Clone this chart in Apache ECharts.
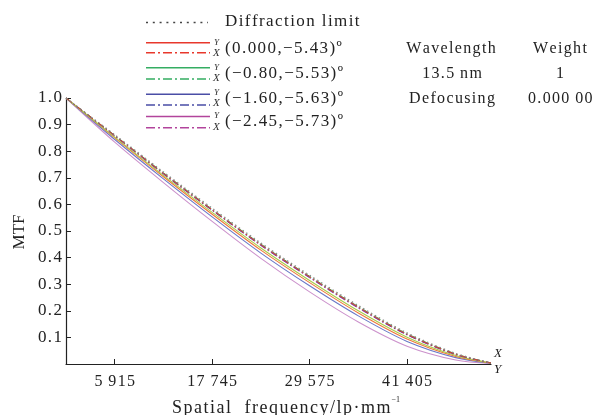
<!DOCTYPE html>
<html>
<head>
<meta charset="utf-8">
<script src="https://cdn.jsdelivr.net/npm/echarts@6/dist/echarts.min.js"></script>
<style>html,body{margin:0;padding:0;background:#fff}#c{width:592px;height:415px}</style>
</head>
<body>
<div id="c"></div>
<script>
// Spatial frequency samples (lp/mm)
var freq = [0, 5915, 11830, 17745, 23660, 29575, 35490, 41405, 47320, 51600];
// Tick labels on x axis
var xTicks = [5915, 17745, 29575, 41405];
var xTickLabels = ['5\u2009915', '17\u2009745', '29\u2009575', '41\u2009405'];
// MTF values
var diffLimit = [1.0, 0.862, 0.722, 0.586, 0.455, 0.334, 0.220, 0.117, 0.040, 0.004];
var redY     = [1.0, 0.850, 0.704, 0.563, 0.428, 0.306, 0.192, 0.094, 0.028, 0.003];
var redX     = [1.0, 0.859, 0.717, 0.580, 0.449, 0.328, 0.214, 0.112, 0.037, 0.004];
var greenY   = [1.0, 0.853, 0.709, 0.570, 0.436, 0.314, 0.200, 0.101, 0.032, 0.004];
var greenX   = [1.0, 0.860, 0.719, 0.582, 0.451, 0.330, 0.216, 0.114, 0.038, 0.004];
var blueY    = [1.0, 0.844, 0.696, 0.553, 0.417, 0.294, 0.181, 0.085, 0.024, 0.003];
var blueX    = [1.0, 0.858, 0.715, 0.578, 0.447, 0.326, 0.212, 0.110, 0.036, 0.004];
var purpleY  = [1.0, 0.834, 0.682, 0.536, 0.397, 0.271, 0.158, 0.067, 0.015, 0.002];
var purpleX  = [1.0, 0.857, 0.714, 0.577, 0.445, 0.324, 0.210, 0.109, 0.035, 0.004];

var fieldLabels = ['(0.000,\u22125.43)\u00ba', '(\u22120.80,\u22125.53)\u00ba', '(\u22121.60,\u22125.63)\u00ba', '(\u22122.45,\u22125.73)\u00ba'];
var colors = ['#e8382c', '#34ad62', '#4a4ea6', '#b2449c'];

function pairs(v) { return freq.map(function (f, i) { return [f, v[i]]; }); }
// widen tracking to mimic the spaced serif of the original
function sp(s) { return s.split('').join('\u200A'); }

var FONT = '"Liberation Serif", "Times New Roman", serif';
var DASHDOT = [7, 2.5, 1.5, 2.5];

function lineSeries(name, vals, color, dash, width, z) {
  return {
    name: name, type: 'line', data: pairs(vals), smooth: 0.3, showSymbol: false,
    symbol: 'none', z: z, silent: true,
    lineStyle: { color: color, width: width, type: dash }
  };
}

var series = [
  lineSeries('purpleY', purpleY, '#cc92cc', 'solid', 1.1, 2),
  lineSeries('blueY', blueY, '#6a78c8', 'solid', 1.1, 2),
  lineSeries('redY', redY, '#ef7a3a', 'solid', 1.1, 2),
  lineSeries('greenY', greenY, '#a8cc4a', 'solid', 1.1, 2),
  lineSeries('purpleX', purpleX, colors[3], DASHDOT, 1, 3),
  lineSeries('blueX', blueX, colors[2], DASHDOT, 1, 3),
  lineSeries('greenX', greenX, colors[1], DASHDOT, 1, 3),
  lineSeries('redX', redX, colors[0], DASHDOT, 1, 3),
  lineSeries('Diffraction limit', diffLimit, '#8a8a8a', [1.5, 3], 1.2, 4)
];

var measureCtx = document.createElement('canvas').getContext('2d');
function textW(t, font) { measureCtx.font = font; return measureCtx.measureText(t).width; }

// Legend + annotation graphics
var g = [];
g.push({ type: 'line', shape: { x1: 146, y1: 22.5, x2: 208, y2: 22.5 }, style: { stroke: '#444', lineWidth: 1.3, lineDash: [2, 4.8] } });
g.push({ type: 'text', x: 225, y: 22, style: { text: sp('Diffraction limit'), font: '17px ' + FONT, fill: '#222', textVerticalAlign: 'middle' } });
var solidY = [42.7, 67.7, 94.3, 116.5];
var dashY = [52.7, 79, 105, 127.7];
var textY = [48.3, 73.3, 98.3, 121.7];
for (var i = 0; i < 4; i++) {
  g.push({ type: 'line', shape: { x1: 146, y1: solidY[i], x2: 210, y2: solidY[i] }, style: { stroke: colors[i], lineWidth: 1.6 } });
  g.push({ type: 'line', shape: { x1: 146, y1: dashY[i], x2: 210, y2: dashY[i] }, style: { stroke: colors[i], lineWidth: 1.6, lineDash: [9, 3, 2, 3] } });
  g.push({ type: 'text', x: 214, y: textY[i] - 6, style: { text: 'Y', font: 'italic 9px ' + FONT, fill: '#333', textVerticalAlign: 'middle' } });
  g.push({ type: 'text', x: 213, y: textY[i] + 5, style: { text: 'X', font: 'italic 11px ' + FONT, fill: '#333', textVerticalAlign: 'middle' } });
  g.push({ type: 'text', x: 225, y: textY[i], style: { text: sp(fieldLabels[i]), font: '17px ' + FONT, fill: '#222', textVerticalAlign: 'middle' } });
}
var tbl = [
  ['Wavelength', 451, 48.3], ['Weight', 560, 48.3],
  ['13.5\u2009nm', 452, 73.3], ['1', 560, 73.3],
  ['Defocusing', 452, 98.3]
];
tbl.forEach(function (t) {
  g.push({ type: 'text', x: t[1], y: t[2], style: { text: sp(t[0]), font: '16px ' + FONT, fill: '#222', textAlign: 'center', textVerticalAlign: 'middle' } });
});
g.push({ type: 'text', x: 528, y: 98.3, style: { text: sp('0.000\u200900'), font: '16px ' + FONT, fill: '#222', textVerticalAlign: 'middle' } });
// axis names
g.push({ type: 'text', x: 20, y: 232, rotation: Math.PI / 2, style: { text: 'MTF', font: '17px ' + FONT, fill: '#222', textAlign: 'center', textVerticalAlign: 'middle' } });
var xName = sp('Spatial  frequency/lp\u00b7mm');
var xNameFont = '18px ' + FONT;
var xNameLeft = 172;
g.push({ type: 'text', x: xNameLeft, y: 408, style: { text: xName, font: xNameFont, fill: '#222', textVerticalAlign: 'middle' } });
g.push({ type: 'text', x: xNameLeft + textW(xName, xNameFont) + 1, y: 400, style: { text: '\u22121', font: '8px ' + FONT, fill: '#222', textVerticalAlign: 'middle' } });
// X / Y marks at curve end
g.push({ type: 'text', x: 494, y: 354, style: { text: 'X', font: 'italic 13px ' + FONT, fill: '#222', textVerticalAlign: 'middle' } });
g.push({ type: 'text', x: 494, y: 370, style: { text: 'Y', font: 'italic 13px ' + FONT, fill: '#222', textVerticalAlign: 'middle' } });

var chart = echarts.init(document.getElementById('c'), null, { renderer: 'canvas' });
chart.setOption({
  backgroundColor: '#fff',
  animation: false,
  grid: { left: 66, right: 101, top: 98, bottom: 51 },
  xAxis: {
    type: 'value', min: 0, max: 51600,
    axisLine: { show: true, lineStyle: { color: '#222', width: 1.2 } },
    axisTick: { show: true, inside: true, length: 5, lineStyle: { color: '#222' }, customValues: xTicks },
    axisLabel: {
      customValues: xTicks, margin: 10, fontFamily: FONT, fontSize: 16, color: '#222',
      formatter: function (v) { var k = xTicks.indexOf(v); return k >= 0 ? sp(xTickLabels[k]) : ''; }
    },
    splitLine: { show: false }
  },
  yAxis: {
    type: 'value', min: 0, max: 1, interval: 0.1,
    axisLine: { show: true, lineStyle: { color: '#222', width: 1.2 } },
    axisTick: { show: true, inside: true, length: 5, lineStyle: { color: '#222' } },
    axisLabel: {
      margin: 4, fontFamily: FONT, fontSize: 17, color: '#222',
      formatter: function (v) { return v === 0 ? '' : sp(v.toFixed(1)); }
    },
    splitLine: { show: false }
  },
  series: series,
  graphic: g
});
</script>
</body>
</html>
